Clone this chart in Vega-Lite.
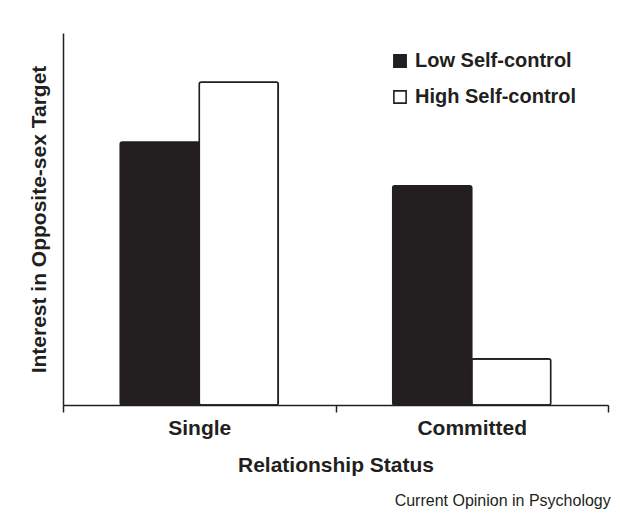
{
  "$schema": "https://vega.github.io/schema/vega-lite/v6.json",
  "width": 545,
  "height": 372,
  "autosize": {"type": "none"},
  "padding": {"left": 63, "top": 33, "right": 12, "bottom": 108},
  "background": "white",
  "data": {
    "values": [
      {"status": "Single", "group": "Low Self-control", "interest": 7.07},
      {"status": "Single", "group": "High Self-control", "interest": 8.68},
      {"status": "Committed", "group": "Low Self-control", "interest": 5.89},
      {"status": "Committed", "group": "High Self-control", "interest": 1.24}
    ]
  },
  "title": {
    "text": "Current Opinion in Psychology",
    "orient": "bottom",
    "anchor": "end",
    "font": "Liberation Sans",
    "fontSize": 16,
    "fontWeight": "normal",
    "color": "#231f20",
    "offset": 18,
    "dx": 2
  },
  "mark": {"type": "bar", "stroke": "#231f20", "strokeWidth": 1.6, "cornerRadius": 2},
  "encoding": {
    "x": {
      "field": "status",
      "type": "nominal",
      "sort": ["Single", "Committed"],
      "scale": {"paddingInner": 0, "paddingOuter": 0},
      "axis": {
        "title": "Relationship Status",
        "labelAngle": 0,
        "tickBand": "extent",
        "tickSize": 7,
        "tickColor": "#231f20",
        "domainColor": "#231f20",
        "domainWidth": 1.5,
        "tickWidth": 1.5,
        "labelFont": "Liberation Sans",
        "labelFontSize": 21,
        "labelFontWeight": "bold",
        "labelColor": "#231f20",
        "labelPadding": 5,
        "titleFont": "Liberation Sans",
        "titleFontSize": 21,
        "titleFontWeight": "bold",
        "titleColor": "#231f20",
        "titlePadding": 16
      }
    },
    "xOffset": {"field": "group", "type": "nominal", "sort": ["Low Self-control", "High Self-control"], "scale": {"paddingInner": 0, "paddingOuter": 0.725}},
    "y": {
      "field": "interest",
      "type": "quantitative",
      "scale": {"domain": [0, 10], "nice": false},
      "axis": {
        "title": "Interest in Opposite-sex Target",
        "ticks": false,
        "labels": false,
        "grid": false,
        "domainColor": "#231f20",
        "domainWidth": 1.5,
        "titleFont": "Liberation Sans",
        "titleFontSize": 21,
        "titleFontWeight": "bold",
        "titleColor": "#231f20",
        "titlePadding": 14
      }
    },
    "fill": {
      "field": "group",
      "type": "nominal",
      "sort": ["Low Self-control", "High Self-control"],
      "scale": {"domain": ["Low Self-control", "High Self-control"], "range": ["#231f20", "#ffffff"]},
      "legend": {
        "title": null,
        "orient": "none",
        "legendX": 327,
        "legendY": 18,
        "symbolType": "square",
        "symbolSize": 150,
        "symbolStrokeColor": "#231f20",
        "symbolStrokeWidth": 1.6,
        "labelFont": "Liberation Sans",
        "labelFontSize": 20,
        "labelFontWeight": "bold",
        "labelColor": "#231f20",
        "labelOffset": 5,
        "labelLimit": 300,
        "rowPadding": 16
      }
    }
  },
  "config": {
    "view": {"stroke": null}
  }
}
